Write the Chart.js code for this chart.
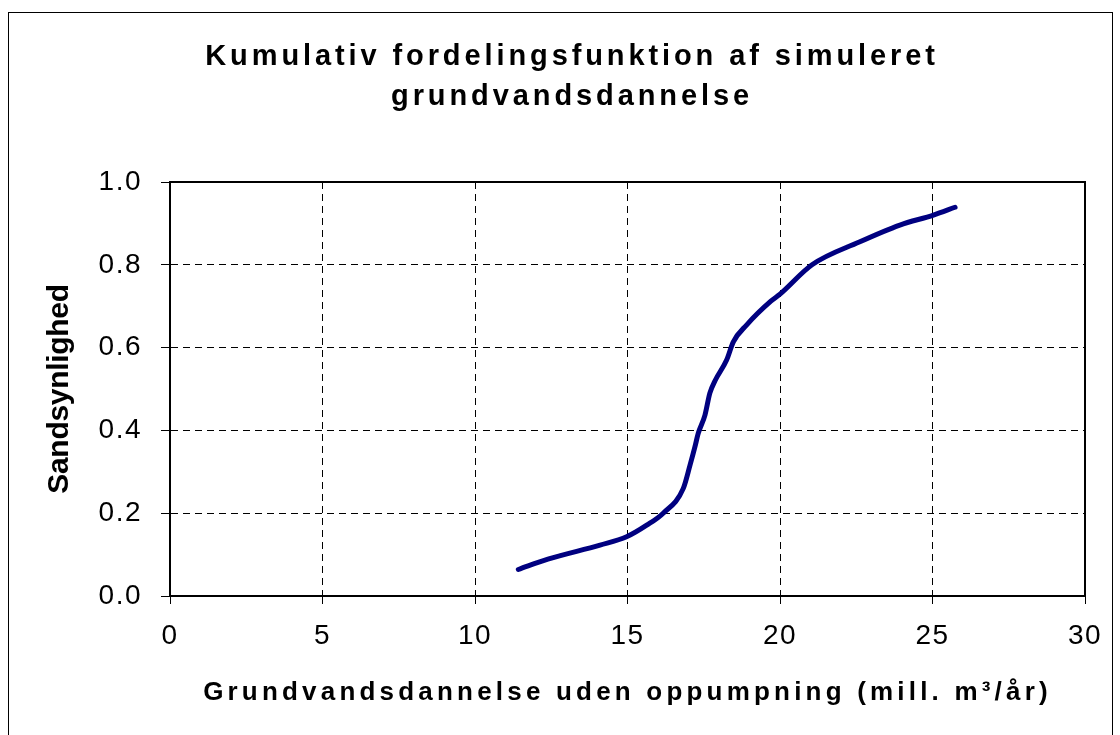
<!DOCTYPE html>
<html>
<head>
<meta charset="utf-8">
<script src="https://cdn.jsdelivr.net/npm/chart.js@4.4.1/dist/chart.umd.min.js"></script>
<style>
  html, body { margin: 0; padding: 0; background: #fff; }
  canvas { display: block; }
</style>
</head>
<body>
<canvas id="c" width="1120" height="735"></canvas>
<script>
// ---- Data ----
const recharge = [11.42, 12.39, 14.1, 14.97, 15.63, 16.17, 16.83, 17.05, 17.21, 17.32, 17.54, 17.7, 17.87, 18.25, 18.47, 18.91, 19.7, 20.0, 21.05, 22.6, 23.93, 25.03, 25.74];
const probability = [0.064, 0.089, 0.123, 0.143, 0.171, 0.20, 0.26, 0.316, 0.36, 0.393, 0.437, 0.49, 0.52, 0.57, 0.614, 0.655, 0.712, 0.729, 0.80, 0.855, 0.896, 0.92, 0.939];
const xTicks = [0, 5, 10, 15, 20, 25, 30];
const yTicks = ['0.0', '0.2', '0.4', '0.6', '0.8', '1.0'];
const titleLines = ['Kumulativ fordelingsfunktion af simuleret', 'grundvandsdannelse'];
const xTitle = 'Grundvandsdannelse uden oppumpning (mill. m³/år)';
const yTitle = 'Sandsynlighed';

const points = recharge.map((x, i) => ({ x: x, y: probability[i] }));

// ---- letter spacing per font (emulates the spaced-out original typography) ----
const canvas = document.getElementById('c');
const ctx = canvas.getContext('2d');
function spacingFor(font) {
  const m = /(\d+(?:\.\d+)?)px/.exec(font);
  const size = m ? parseFloat(m[1]) : 0;
  const bold = /bold|700/.test(font);
  if (bold && size === 29) return 3.9;
  if (bold && size === 26) return 4.2;
  if (bold && size === 30) return -0.3;
  if (!bold && size === 28) return 1.5;
  return 0;
}
const origFill = ctx.fillText.bind(ctx);
const origMeasure = ctx.measureText.bind(ctx);
ctx.fillText = function (...a) { ctx.letterSpacing = spacingFor(ctx.font) + 'px'; return origFill(...a); };
ctx.measureText = function (...a) { ctx.letterSpacing = spacingFor(ctx.font) + 'px'; return origMeasure(...a); };

const FAMILY = "'Liberation Sans', Arial, sans-serif";

const framePlugin = {
  id: 'frames',
  beforeDraw(chart) {
    const c = chart.ctx;
    c.save();
    c.fillStyle = '#fff';
    c.fillRect(0, 0, chart.width, chart.height);
    c.strokeStyle = '#000';
    c.lineWidth = 1;
    c.strokeRect(8.5, 12.5, 1104, 740);
    c.restore();
  },
  afterDraw(chart) {
    const a = chart.chartArea;
    const c = chart.ctx;
    c.save();
    c.strokeStyle = '#000';
    c.lineWidth = 2;
    c.setLineDash([]);
    c.strokeRect(a.left, a.top, a.right - a.left, a.bottom - a.top);
    c.restore();
  }
};

new Chart(ctx, {
  type: 'scatter',
  data: {
    datasets: [{
      data: points,
      showLine: true,
      borderColor: '#000080',
      backgroundColor: '#000080',
      borderWidth: 5,
      borderCapStyle: 'round',
      borderJoinStyle: 'round',
      pointRadius: 0,
      cubicInterpolationMode: 'monotone'
    }]
  },
  options: {
    responsive: false,
    animation: false,
    layout: { padding: { left: 59, right: 35, top: 0, bottom: 0 } },
    plugins: {
      legend: { display: false },
      tooltip: { enabled: false },
      title: {
        display: true,
        text: titleLines,
        color: '#000',
        font: { family: FAMILY, size: 29, weight: 'bold', lineHeight: '40px' },
        padding: { top: 37, bottom: 65 }
      }
    },
    scales: {
      x: {
        type: 'linear',
        min: xTicks[0],
        max: xTicks[xTicks.length - 1],
        afterBuildTicks(scale) { scale.ticks = xTicks.map(v => ({ value: v })); },
        afterFit(scale) { scale.height = 139; },
        ticks: {
          color: '#000',
          padding: 15,
          font: { family: FAMILY, size: 28 },
          callback: v => String(v)
        },
        grid: {
          color: '#000',
          lineWidth: 1,
          tickLength: 8,
          tickColor: '#000',
          tickBorderDash: []
        },
        border: { display: true, color: '#000', width: 2, dash: [7, 5] },
        title: {
          display: true,
          text: xTitle,
          color: '#000',
          font: { family: FAMILY, size: 26, weight: 'bold' },
          padding: { top: 0, bottom: 27 }
        }
      },
      y: {
        type: 'linear',
        min: 0,
        max: 1,
        afterBuildTicks(scale) { scale.ticks = yTicks.map(v => ({ value: parseFloat(v) })); },
        afterFit(scale) { scale.width = 111; },
        ticks: {
          color: '#000',
          padding: 19,
          font: { family: FAMILY, size: 28 },
          callback: v => yTicks.find(t => parseFloat(t) === v) || v.toFixed(1)
        },
        grid: {
          color: '#000',
          lineWidth: 1,
          tickLength: 9,
          tickColor: '#000',
          tickBorderDash: []
        },
        border: { display: true, color: '#000', width: 2, dash: [7, 5] },
        title: {
          display: true,
          text: yTitle,
          color: '#000',
          font: { family: FAMILY, size: 30, weight: 'bold' },
          padding: { top: -17, bottom: 0 }
        }
      }
    }
  },
  plugins: [framePlugin]
});
</script>
</body>
</html>
